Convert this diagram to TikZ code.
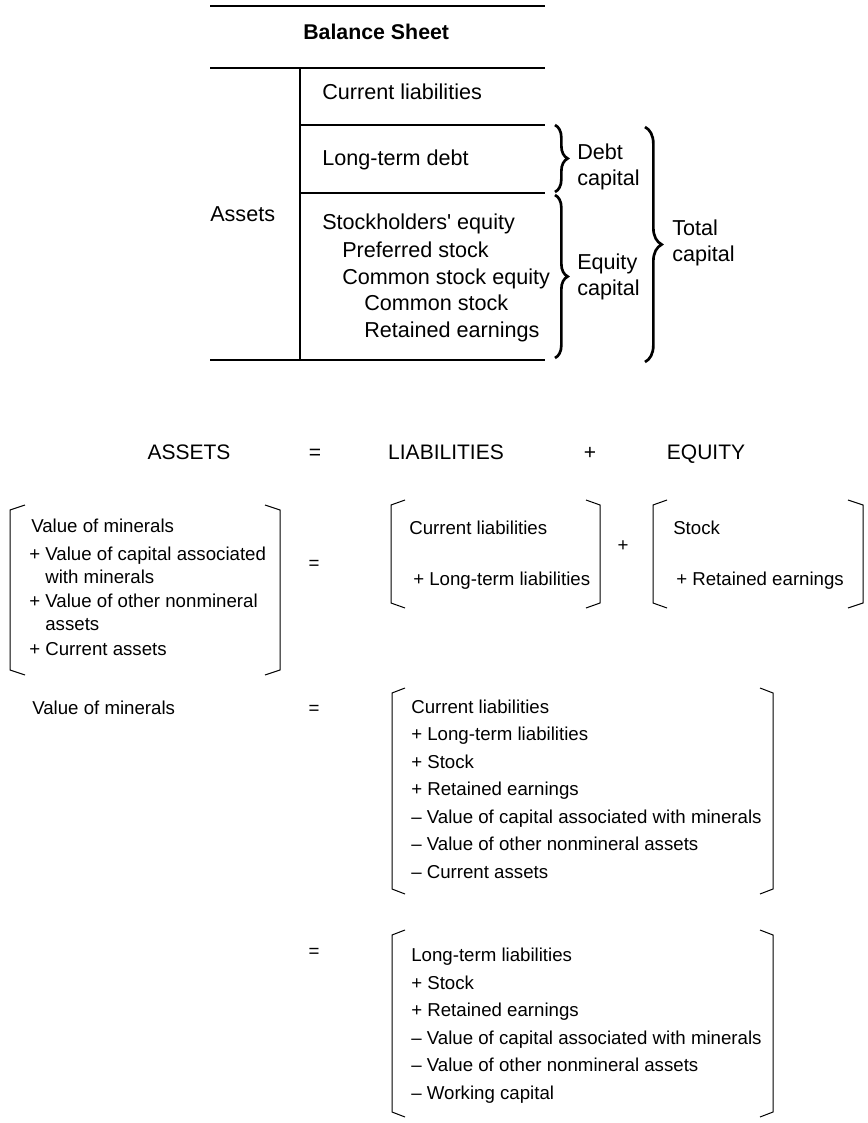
\documentclass[tikz,border=0pt]{standalone}
\usepackage{fontspec}
\setmainfont{Liberation Sans}
\usetikzlibrary{positioning,decorations.pathreplacing}

\begin{document}
\begin{tikzpicture}[
  x=0.75pt, y=-0.75pt,
  big/.style={anchor=base west, inner sep=0pt, font=\fontsize{16.2}{19.5}\selectfont},
  lbl/.style={anchor=west, inner sep=0pt, align=left, font=\fontsize{16.2}{19.5}\selectfont},
  hdr/.style={anchor=base, inner sep=0pt, font=\fontsize{15.75}{19}\selectfont},
  term/.style={anchor=base west, inner sep=0pt, font=\fontsize{14}{17.25}\selectfont},
  multi/.style={anchor=west, inner sep=0pt, align=left, font=\fontsize{14}{17.25}\selectfont},
  longlist/.style={anchor=west, inner sep=0pt, align=left, font=\fontsize{14}{20.6}\selectfont},
  sign/.style={anchor=base, inner sep=0pt, font=\fontsize{14}{17}\selectfont},
  rule/.style={line width=0.9pt},
  brk/.style={line width=0.75pt},
  curly/.style={decorate, decoration={brace, amplitude=#1}, line width=2pt},
  curly/.default=9.5pt,
]
\useasboundingbox (0,0) rectangle (867,1123);

\draw[rule] (210,6) -- (545,6);
\draw[rule] (210,68) -- (545,68);
\draw[rule] (300,125) -- (545,125);
\draw[rule] (300,193) -- (545,193);
\draw[rule] (210,360) -- (545,360);
\draw[rule] (300,68) -- (300,360);

\node[big, font=\fontsize{16}{19.5}\selectfont\bfseries] (title) at (303,39.5) {Balance Sheet};
\node[big] (curliab) at (322,99.5) {Current liabilities};
\node[big] (ltdebt) at (322,165.5) {Long-term debt};
\node[big] (sheq) at (322,229.5) {Stockholders\textquotesingle\ equity};
\node[big] (prefst) at (342,257.5) {Preferred stock};
\node[big] (comeq) at (342,284.5) {Common stock equity};
\node[big] (comst) at (364,310.5) {Common stock};
\node[big] (reteq) at (364,337.5) {Retained earnings};
\node[big] (assets) at (210,221.5) {Assets};

\node[lbl] (debtcap) at (577,167) {Debt\\capital};
\node[lbl] (eqcap) at (577,276.5) {Equity\\capital};
\node[lbl] (totcap) at (672,243) {Total\\capital};

\draw[curly] (555,125) -- (555,192);
\draw[curly] (555,195) -- (555,358);
\draw[curly=12.5pt] (645,127) -- (645,362);

\node[hdr] (hassets) at (189,459.5) {ASSETS};
\node[hdr] (heq) at (315,459.5) {=};
\node[hdr] (hliab) at (446,459.5) {LIABILITIES};
\node[hdr] (hplus) at (590,459.5) {+};
\node[hdr] (hequity) at (706,459.5) {EQUITY};

\node[term] (avm) at (31,532.5) {Value of minerals};
\node[multi] (acap) at (29,565.7) {+ Value of capital associated\\\hphantom{+ }with minerals};
\node[multi] (aoth) at (29,612.7) {+ Value of other nonmineral\\\hphantom{+ }assets};
\node[term] (acur) at (29,655.5) {+ Current assets};
\draw[brk] (25,505) -- (10,510) -- (10,670) -- (25,675);
\draw[brk] (265,505) -- (280,510) -- (280,670) -- (265,675);

\node[sign] (eqone) at (314,569) {=};

\node[term] (lcur) at (409,534.5) {Current liabilities};
\node[term] (llong) at (413,585.5) {+ Long-term liabilities};
\draw[brk] (405,500) -- (391,505) -- (391,603) -- (405,608);
\draw[brk] (586,500) -- (600,505) -- (600,603) -- (586,608);

\node[sign] (plusone) at (623,551) {+};

\node[term] (estock) at (673,534.5) {Stock};
\node[term] (eret) at (676,585.5) {+ Retained earnings};
\draw[brk] (667,500) -- (653,505) -- (653,603) -- (667,608);
\draw[brk] (848,500) -- (863,505) -- (863,603) -- (848,608);

\node[term] (vmin) at (32,714.5) {Value of minerals};
\node[sign] (eqtwo) at (314,714) {=};
\node[longlist] (rhsone) at (411,789) {Current liabilities\\+ Long-term liabilities\\+ Stock\\+ Retained earnings\\-- Value of capital associated with minerals\\-- Value of other nonmineral assets\\-- Current assets};
\draw[brk] (405,688) -- (392,693) -- (392,889) -- (405,894);
\draw[brk] (760,688) -- (773,693) -- (773,889) -- (760,894);

\node[sign] (eqthree) at (314,957) {=};
\node[longlist] (rhstwo) at (411,1025.5) {Long-term liabilities\\+ Stock\\+ Retained earnings\\-- Value of capital associated with minerals\\-- Value of other nonmineral assets\\-- Working capital};
\draw[brk] (405,930) -- (392,935) -- (392,1112) -- (405,1117);
\draw[brk] (760,930) -- (773,935) -- (773,1112) -- (760,1117);
\end{tikzpicture}
\end{document}
